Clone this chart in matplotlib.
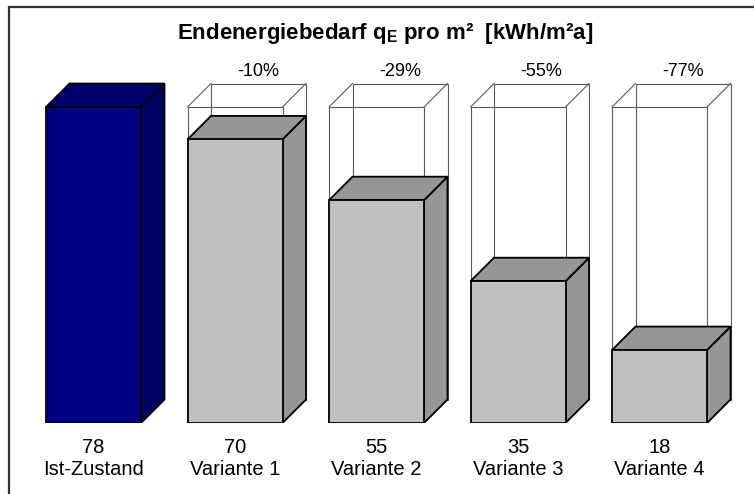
import matplotlib
matplotlib.use('Agg')
import matplotlib.pyplot as plt
from matplotlib.patches import Polygon, Rectangle

# Final energy demand per m² for the current state and four refurbishment variants
categories = ['Ist-Zustand', 'Variante 1', 'Variante 2', 'Variante 3', 'Variante 4']
values = [78, 70, 55, 35, 18]
title = 'Endenergiebedarf q$_\\mathbf{E}$ pro m²  [kWh/m²a]'

plt.rcParams['font.family'] = ['Liberation Sans', 'DejaVu Sans']
plt.rcParams['mathtext.fontset'] = 'custom'
plt.rcParams['mathtext.rm'] = 'Liberation Sans'
plt.rcParams['mathtext.bf'] = 'Liberation Sans:bold'

W, H = 754, 494
fig = plt.figure(figsize=(W / 100, H / 100), dpi=100)

# axes layout in pixels: baseline row, vertical scale and category spacing
base_row = 423
top_row = 40
px_per_unit = 4.051
step = 141.5
first_center = 93.5
ax = fig.add_axes([0, (H - base_row) / H, 1, (base_row - top_row) / H])
ax.set_ylim(0, (base_row - top_row) / px_per_unit)
ax.set_xlim(-first_center / step, (W - first_center) / step)
ax.axis('off')

width = 95 / step
depth_px = 23.5
dx = depth_px / step
dy = depth_px / px_per_unit

base = values[0]
styles = [
    dict(front='#000080', top='#00006c', side='#000062'),
] + [dict(front='#c0c0c0', top='#969696', side='#969696')] * (len(values) - 1)

edge_lw = 1.3

for i, (v, st) in enumerate(zip(values, styles)):
    x0, x1 = i - width / 2, i + width / 2
    if i > 0:
        # transparent reference box at the level of the current state
        h = base
        segs = [
            ([x0, x1, x1, x0, x0], [0, 0, h, h, 0]),
            ([x0 + dx, x1 + dx, x1 + dx, x0 + dx, x0 + dx], [dy, dy, h + dy, h + dy, dy]),
            ([x0, x0 + dx], [h, h + dy]),
            ([x1, x1 + dx], [h, h + dy]),
            ([x1, x1 + dx], [0, dy]),
            ([x0, x0 + dx], [0, dy]),
        ]
        for xs, ys in segs:
            ax.plot(xs, ys, color='#5a5a5a', lw=0.8, zorder=1, solid_joinstyle='miter')

    side = Polygon([(x1, 0), (x1 + dx, dy), (x1 + dx, v + dy), (x1, v)],
                   closed=True, facecolor=st['side'], edgecolor='black',
                   lw=edge_lw, zorder=2, joinstyle='miter')
    top = Polygon([(x0, v), (x0 + dx, v + dy), (x1 + dx, v + dy), (x1, v)],
                  closed=True, facecolor=st['top'], edgecolor='black',
                  lw=edge_lw, zorder=2, joinstyle='miter')
    ax.add_patch(side)
    ax.add_patch(top)
    ax.bar(i, v, width=width, color=st['front'], edgecolor='black',
           linewidth=edge_lw, zorder=3)

    # value and category below each bar
    ax.annotate(f'{v}', xy=(i, 0), xytext=(0, -30), textcoords='offset pixels',
                ha='center', va='baseline', fontsize=14.5, annotation_clip=False)
    ax.annotate(categories[i], xy=(i, 0), xytext=(0, -52), textcoords='offset pixels',
                ha='center', va='baseline', fontsize=14.5, annotation_clip=False)

    # reduction relative to the current state
    if i > 0:
        pct = round((v / base - 1) * 100)
        ax.annotate(f'{pct}%', xy=(i + dx, base + dy), xytext=(0, 8),
                    textcoords='offset pixels', ha='center', va='baseline',
                    fontsize=13, annotation_clip=False)

fig.text(385 / W, 1 - 38.5 / H, title, ha='center', va='baseline',
         fontsize=16, fontweight='bold')

# outer chart frame
fig.add_artist(Rectangle((8.5 / W, -0.2), 1.3, (H - 7.5) / H + 0.2,
                         transform=fig.transFigure, fill=False,
                         edgecolor='#333333', lw=1.6))

fig.savefig('out.png', dpi=100)
